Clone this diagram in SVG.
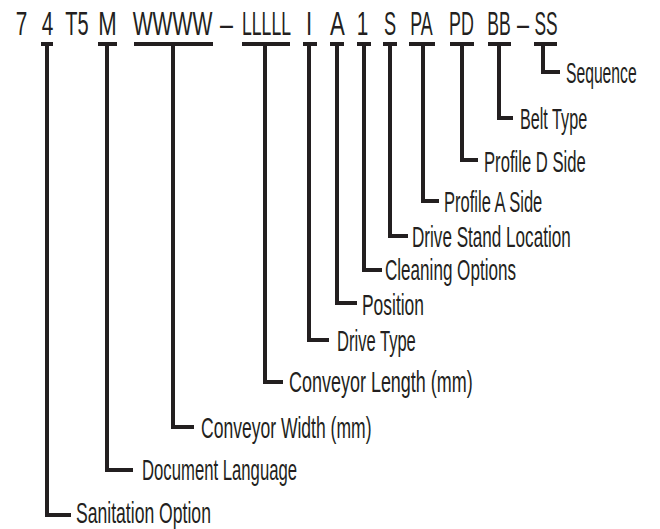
<svg xmlns="http://www.w3.org/2000/svg" width="660" height="529" viewBox="0 0 660 529">
<style>
text{font-family:"Liberation Sans",Arial,sans-serif;fill:#231f20}
.code{font-size:33px;text-anchor:middle}
.lbl{font-size:29px}
.bar{stroke:#231f20;stroke-width:4;fill:none}
.ln{stroke:#231f20;stroke-width:4;fill:none;stroke-linejoin:miter;stroke-linecap:butt}
</style>
<rect width="660" height="529" fill="#ffffff"/>
<g id="code">
<text class="code" transform="translate(21.5,35) scale(0.63,1)">7</text>
<text class="code" transform="translate(47.5,35) scale(0.63,1)">4</text>
<text class="code" transform="translate(77,35) scale(0.607,1)">T5</text>
<text class="code" transform="translate(107.5,35) scale(0.672,1)">M</text>
<text class="code" transform="translate(172.5,35) scale(0.64,1)">WWWW</text>
<text class="code" transform="translate(226.5,35) scale(0.705,1)">–</text>
<text class="code" transform="translate(266.5,35) scale(0.533,1)">LLLLL</text>
<text class="code" transform="translate(309,35) scale(0.672,1)">I</text>
<text class="code" transform="translate(337.5,35) scale(0.672,1)">A</text>
<text class="code" transform="translate(362.5,35) scale(0.63,1)">1</text>
<text class="code" transform="translate(390,35) scale(0.55,1)">S</text>
<text class="code" transform="translate(421.5,35) scale(0.541,1)">PA</text>
<text class="code" transform="translate(461.5,35) scale(0.541,1)">PD</text>
<text class="code" transform="translate(499,35) scale(0.533,1)">BB</text>
<text class="code" transform="translate(523,35) scale(0.656,1)">–</text>
<text class="code" transform="translate(546,35) scale(0.525,1)">SS</text>
</g>
<g id="connectors">
<line class="bar" x1="41" y1="44" x2="53" y2="44"/>
<line class="bar" x1="98" y1="44" x2="117" y2="44"/>
<line class="bar" x1="134" y1="44" x2="213" y2="44"/>
<line class="bar" x1="242" y1="44" x2="290" y2="44"/>
<line class="bar" x1="303" y1="44" x2="317" y2="44"/>
<line class="bar" x1="330" y1="44" x2="344" y2="44"/>
<line class="bar" x1="357" y1="44" x2="371" y2="44"/>
<line class="bar" x1="383" y1="44" x2="397" y2="44"/>
<line class="bar" x1="409" y1="44" x2="435" y2="44"/>
<line class="bar" x1="450" y1="44" x2="474" y2="44"/>
<line class="bar" x1="488" y1="44" x2="511" y2="44"/>
<line class="bar" x1="534" y1="44" x2="557" y2="44"/>
<path class="ln" d="M543,44 V72 H560"/>
<path class="ln" d="M499,44 V118 H513"/>
<path class="ln" d="M462,44 V160 H478"/>
<path class="ln" d="M423,44 V201 H439"/>
<path class="ln" d="M390,44 V236 H408"/>
<path class="ln" d="M364,44 V270 H382"/>
<path class="ln" d="M337,44 V303 H357"/>
<path class="ln" d="M309,44 V340 H329"/>
<path class="ln" d="M265,44 V382 H283"/>
<path class="ln" d="M173,44 V427 H194"/>
<path class="ln" d="M107,44 V470 H133"/>
<path class="ln" d="M47,44 V515 H71"/>
</g>
<g id="n-sequence"><text class="lbl" transform="translate(566,83) scale(0.541,1)">Sequence</text></g>
<g id="n-belt"><text class="lbl" transform="translate(520,129) scale(0.558,1)">Belt Type</text></g>
<g id="n-profiled"><text class="lbl" transform="translate(484,172) scale(0.574,1)">Profile D Side</text></g>
<g id="n-profilea"><text class="lbl" transform="translate(444,212) scale(0.57,1)">Profile A Side</text></g>
<g id="n-drivestand"><text class="lbl" transform="translate(412,247) scale(0.59,1)">Drive Stand Location</text></g>
<g id="n-cleaning"><text class="lbl" transform="translate(385,280) scale(0.589,1)">Cleaning Options</text></g>
<g id="n-position"><text class="lbl" transform="translate(362,315) scale(0.601,1)">Position</text></g>
<g id="n-drivetype"><text class="lbl" transform="translate(337,351) scale(0.571,1)">Drive Type</text></g>
<g id="n-length"><text class="lbl" transform="translate(289,392) scale(0.62,1)">Conveyor Length (mm)</text></g>
<g id="n-width"><text class="lbl" transform="translate(201,438) scale(0.605,1)">Conveyor Width (mm)</text></g>
<g id="n-language"><text class="lbl" transform="translate(142,480) scale(0.576,1)">Document Language</text></g>
<g id="n-sanitation"><text class="lbl" transform="translate(76,523) scale(0.607,1)">Sanitation Option</text></g>
</svg>
